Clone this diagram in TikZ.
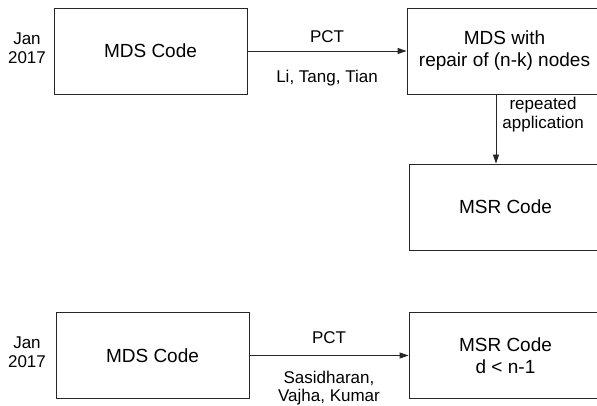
\documentclass[tikz,border=0pt]{standalone}
\usepackage{fontspec}
\setmainfont{Liberation Sans}
\usetikzlibrary{arrows.meta,positioning}

\begin{document}
\begin{tikzpicture}[x=1pt, y=-1pt,
    box/.style={draw=black!85, line width=0.9pt, minimum width=193pt, minimum height=86pt, align=center, font=\fontsize{19}{22}\selectfont},
    lbl/.style={align=center, inner sep=0pt, font=\fontsize{17}{18.5}\selectfont},
    link/.style={draw=black!85, line width=0.9pt, -{Triangle[length=9pt,width=6pt]}}]

    \useasboundingbox (0,0) rectangle (597,406);
    \clip (0,0) rectangle (597,406);

    % first row: MDS -> MDS with repair -> MSR
    \node[lbl] (dateA) at (27,48) {Jan\\2017};
    \node[box] (mdsA) at (150.5,51) {MDS Code};
    \node[box, minimum width=195pt] (mdsrep) at (504.5,51) {MDS with\\repair of (n-k) nodes};
    \node[box] (msrA) at (505.5,207) {MSR Code};

    \draw[link] (mdsA) -- node[lbl, above=8pt] {PCT} node[lbl, below=19pt] {Li, Tang, Tian} (mdsrep);
    \draw[link] ([xshift=-8.5pt]mdsrep.south) -- node[lbl, right=6pt, pos=0.29] {repeated\\application} ([xshift=-9.5pt]msrA.north);

    % second row: MDS -> MSR with d < n-1
    \node[lbl] (dateB) at (27,352) {Jan\\2017};
    \node[box] (mdsB) at (152.5,355.5) {MDS Code};
    \node[box] (msrB) at (505.5,355.5) {MSR Code\\d < n-1};

    \draw[link] (mdsB) -- node[lbl, above=11pt] {PCT} node[lbl, below=15pt] {Sasidharan,\\Vajha, Kumar} (msrB);

\end{tikzpicture}
\end{document}
